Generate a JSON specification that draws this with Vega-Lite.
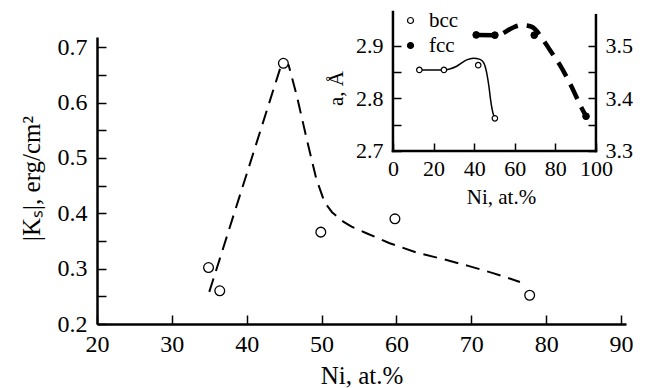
{
  "$schema": "https://vega.github.io/schema/vega-lite/v6.json",
  "width": 529,
  "height": 287,
  "autosize": {"type": "none"},
  "padding": {"left": 97, "top": 37, "right": 21, "bottom": 64},
  "background": "white",
  "config": {
    "view": {"stroke": null},
    "font": "Liberation Serif",
    "axis": {
      "domainColor": "black", "domainWidth": 2.5, "tickColor": "black", "tickWidth": 1.5,
      "labelColor": "black", "titleColor": "black", "grid": false,
      "labelFont": "Liberation Serif", "titleFont": "Liberation Serif", "titleFontWeight": "normal",
      "labelOverlap": false, "labelFlush": false, "labelBound": false
    }
  },
  "datasets": {
    "main_pts": [
      {"ni": 34.9, "ks": 0.302}, {"ni": 36.4, "ks": 0.26}, {"ni": 44.9, "ks": 0.671},
      {"ni": 49.9, "ks": 0.366}, {"ni": 59.8, "ks": 0.39}, {"ni": 77.8, "ks": 0.252}
    ],
    "main_curve": [
      {"ni": 35.0, "ks": 0.258}, {"ni": 44.8, "ks": 0.676}, {"ni": 45.6, "ks": 0.668},
      {"ni": 46.7, "ks": 0.612}, {"ni": 48.0, "ks": 0.535}, {"ni": 49.3, "ks": 0.462},
      {"ni": 50.4, "ks": 0.42}, {"ni": 51.4, "ks": 0.402}, {"ni": 52.9, "ks": 0.385},
      {"ni": 54.0, "ks": 0.376}, {"ni": 56.0, "ks": 0.364}, {"ni": 59.1, "ks": 0.346},
      {"ni": 62.7, "ks": 0.329}, {"ni": 66.3, "ks": 0.317}, {"ni": 69.6, "ks": 0.305},
      {"ni": 72.9, "ks": 0.292}, {"ni": 76.5, "ks": 0.276}
    ],
    "bcc_pts": [
      {"ni": 13.0, "a": 2.854, "phase": "bcc"}, {"ni": 25.1, "a": 2.854, "phase": "bcc"},
      {"ni": 42.0, "a": 2.863, "phase": "bcc"}, {"ni": 50.2, "a": 2.762, "phase": "bcc"}
    ],
    "bcc_curve": [
      {"ni": 12.5, "a": 2.854}, {"ni": 25.1, "a": 2.854}, {"ni": 31.4, "a": 2.861},
      {"ni": 36.3, "a": 2.873}, {"ni": 39.6, "a": 2.876}, {"ni": 42.9, "a": 2.874},
      {"ni": 44.8, "a": 2.867}, {"ni": 46.2, "a": 2.848}, {"ni": 47.3, "a": 2.822},
      {"ni": 48.1, "a": 2.797}, {"ni": 48.9, "a": 2.778}, {"ni": 49.8, "a": 2.765}
    ],
    "frame": [
      {"ni": 0, "ni2": 0, "a": 2.7, "a2": 2.964},
      {"ni": 0, "ni2": 100, "a": 2.7, "a2": 2.7},
      {"ni": 100, "ni2": 100, "a": 2.7, "a2": 2.958}
    ],
    "fcc_pts": [
      {"ni": 41.0, "a": 3.5205, "phase": "fcc"}, {"ni": 50.2, "a": 3.52, "phase": "fcc"},
      {"ni": 69.6, "a": 3.52, "phase": "fcc"}, {"ni": 95.1, "a": 3.366, "phase": "fcc"}
    ],
    "fcc_seg": [{"ni": 41.0, "a": 3.5205}, {"ni": 50.2, "a": 3.52}],
    "fcc_dash": [
      {"ni": 54.5, "a": 3.524}, {"ni": 55.7, "a": 3.527}, {"ni": 59.5, "a": 3.535},
      {"ni": 63.4, "a": 3.539}, {"ni": 68.3, "a": 3.536}, {"ni": 74.0, "a": 3.511},
      {"ni": 77.3, "a": 3.492}, {"ni": 82.3, "a": 3.463}, {"ni": 88.0, "a": 3.422},
      {"ni": 93.0, "a": 3.381}, {"ni": 95.1, "a": 3.366}
    ]
  },
  "layer": [
    {
      "encoding": {
        "x": {
          "field": "ni", "type": "quantitative",
          "scale": {"domain": [20, 90.67], "nice": false, "zero": false},
          "axis": {
            "orient": "top", "offset": -287, "values": [20, 30, 40, 50, 60, 70, 80, 90], "format": "d",
            "tickSize": 9, "labelFontSize": 24, "labelBaseline": "top", "labelPadding": -17,
            "title": "Ni, at.%", "titleFontSize": 25, "titleY": 59, "titleBaseline": "alphabetic"
          }
        },
        "y": {
          "field": "ks", "type": "quantitative",
          "scale": {"domain": [0.2, 0.7186], "nice": false, "zero": false},
          "axis": {
            "orient": "right", "offset": -529,
            "values": [0.2, 0.25, 0.3, 0.35, 0.4, 0.45, 0.5, 0.55, 0.6, 0.65, 0.7],
            "labelExpr": "round(datum.value*20) % 2 == 0 ? format(datum.value, '.1f') : ''",
            "tickSize": 9, "labelFontSize": 24, "labelAlign": "right", "labelPadding": -19,
            "title": "|Kₛ|, erg/cm²", "titleFontSize": 25, "titleX": -53, "titleY": 141,
            "titleAngle": 270, "titleBaseline": "bottom"
          }
        }
      },
      "layer": [
        {"data": {"name": "main_curve"}, "mark": {"type": "line", "stroke": "black", "strokeWidth": 2, "strokeDash": [14, 8]}},
        {"data": {"name": "main_pts"}, "mark": {"type": "circle", "size": 95, "fill": "white", "opacity": 1, "stroke": "black", "strokeWidth": 1.3}}
      ]
    },
    {
      "encoding": {
        "x": {
          "field": "ni", "type": "quantitative",
          "scale": {"domain": [-145.8, 114.8], "nice": false, "zero": false},
          "axis": {
            "orient": "top", "offset": -114, "values": [0, 20, 40, 60, 80, 100], "format": "d",
            "tickSize": 8, "domain": false, "labelFontSize": 22, "labelBaseline": "top", "labelPadding": -15,
            "title": "Ni, at.%", "titleFontSize": 21, "titleX": 404, "titleY": 52, "titleBaseline": "alphabetic"
          }
        }
      },
      "layer": [
        {
          "encoding": {
            "y": {
              "field": "a", "type": "quantitative",
              "scale": {"domain": [2.3714, 2.9165], "nice": false, "zero": false},
              "axis": {
                "orient": "right", "offset": -233, "values": [2.7, 2.75, 2.8, 2.85, 2.9, 2.95],
                "labelExpr": "round(datum.value*20) % 2 == 0 ? format(datum.value, '.1f') : ''",
                "tickSize": 8, "domain": false, "labelFontSize": 22, "labelAlign": "right", "labelPadding": -18,
                "title": "a, Å", "titleFontSize": 21, "titleX": -51, "titleY": 51,
                "titleAngle": 270, "titleBaseline": "alphabetic"
              }
            }
          },
          "layer": [
            {"data": {"name": "frame"}, "mark": {"type": "rule", "stroke": "black", "strokeWidth": 2.5, "strokeCap": "square"},
             "encoding": {"x2": {"field": "ni2"}, "y2": {"field": "a2"}}},
            {"data": {"name": "bcc_curve"}, "mark": {"type": "line", "stroke": "black", "strokeWidth": 1.5, "interpolate": "monotone"}},
            {"data": {"name": "bcc_pts"}, "mark": {"type": "circle", "size": 30, "opacity": 1, "stroke": "black", "strokeWidth": 1.2},
             "encoding": {"fill": {"field": "phase", "type": "nominal",
               "scale": {"domain": ["bcc", "fcc"], "range": ["white", "black"]},
               "legend": {"orient": "none", "legendX": 303, "legendY": -27, "title": null, "symbolType": "circle",
                 "symbolSize": 36, "symbolStrokeColor": "black", "symbolStrokeWidth": 1.2,
                 "labelFontSize": 21, "labelFont": "Liberation Serif", "labelColor": "black", "labelOffset": 8, "rowPadding": 3}}}}
          ]
        },
        {
          "encoding": {
            "y": {
              "field": "a", "type": "quantitative",
              "scale": {"domain": [2.9714, 3.5165], "nice": false, "zero": false},
              "axis": {
                "orient": "left", "offset": -499, "values": [3.3, 3.35, 3.4, 3.45, 3.5, 3.55],
                "labelExpr": "round(datum.value*20) % 2 == 0 ? format(datum.value, '.1f') : ''",
                "tickSize": 8, "domain": false, "labelFontSize": 22, "labelAlign": "left", "labelPadding": -17, "title": null
              }
            }
          },
          "layer": [
            {"data": {"name": "fcc_seg"}, "mark": {"type": "line", "stroke": "black", "strokeWidth": 4.5}},
            {"data": {"name": "fcc_dash"}, "mark": {"type": "line", "stroke": "black", "strokeWidth": 4.5, "strokeDash": [16, 9], "interpolate": "monotone"}},
            {"data": {"name": "fcc_pts"}, "mark": {"type": "circle", "size": 45, "opacity": 1, "stroke": "black", "strokeWidth": 1},
             "encoding": {"fill": {"field": "phase", "type": "nominal",
               "scale": {"domain": ["bcc", "fcc"], "range": ["white", "black"]},
               "legend": {"orient": "none", "legendX": 303, "legendY": -27, "title": null, "symbolType": "circle",
                 "symbolSize": 36, "symbolStrokeColor": "black", "symbolStrokeWidth": 1.2,
                 "labelFontSize": 21, "labelFont": "Liberation Serif", "labelColor": "black", "labelOffset": 8, "rowPadding": 3}}}}
          ]
        }
      ],
      "resolve": {"scale": {"y": "independent"}}
    }
  ],
  "resolve": {"scale": {"x": "independent", "y": "independent"}}
}
